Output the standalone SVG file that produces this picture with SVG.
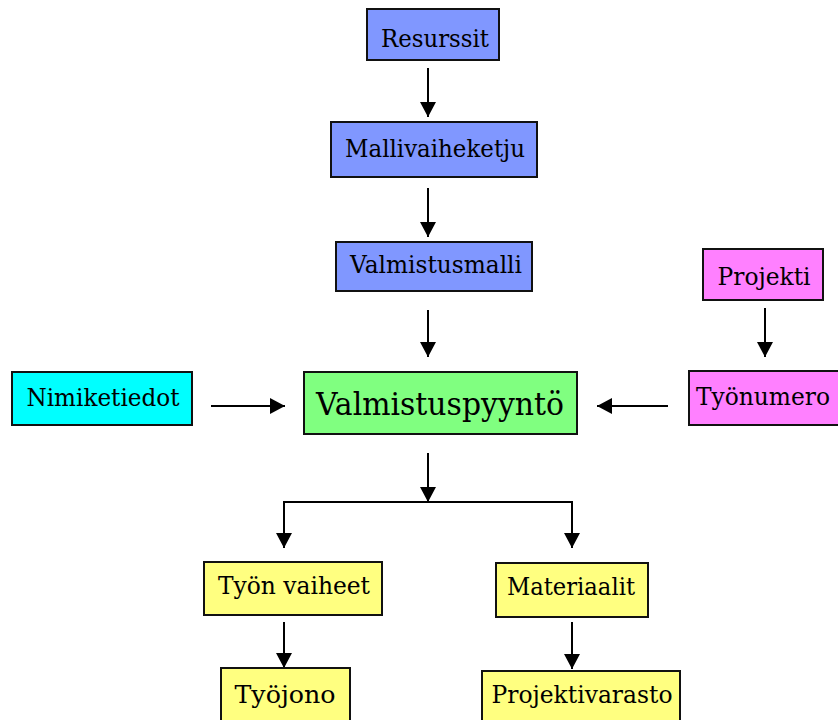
<svg xmlns="http://www.w3.org/2000/svg" width="838" height="720" viewBox="0 0 838 720">
  <defs>
    <marker id="arrow" viewBox="0 0 15 16" refX="15" refY="8" markerWidth="15" markerHeight="16" markerUnits="userSpaceOnUse" orient="auto">
      <path d="M0,0 L15,8 L0,16 Z" fill="#000"/>
    </marker>
    <style>
      .box { stroke: #111; stroke-width: 2; }
      .blue { fill: #8097ff; }
      .green { fill: #80ff80; }
      .cyan { fill: #00ffff; }
      .pink { fill: #ff80ff; }
      .yellow { fill: #ffff80; }
      .label { font-family: "DejaVu Serif", "Liberation Serif", serif; font-size: 24px; fill: #000; text-anchor: middle; }
      .big { font-size: 31px; }
      .conn { stroke: #000; stroke-width: 2; fill: none; }
      .arr { marker-end: url(#arrow); }
    </style>
  </defs>
  <rect width="838" height="720" fill="#fff"/>

  <g id="connectors">
    <line class="conn arr" x1="428" y1="68" x2="428" y2="117"/>
    <line class="conn arr" x1="428" y1="188" x2="428" y2="237"/>
    <line class="conn arr" x1="428" y1="310" x2="428" y2="357"/>
    <line class="conn arr" x1="211" y1="406" x2="285" y2="406"/>
    <line class="conn arr" x1="668" y1="406" x2="597" y2="406"/>
    <line class="conn arr" x1="765" y1="308" x2="765" y2="357"/>
    <line class="conn arr" x1="428" y1="453" x2="428" y2="502"/>
    <line class="conn" x1="283" y1="502" x2="573" y2="502"/>
    <line class="conn arr" x1="284" y1="501" x2="284" y2="548"/>
    <line class="conn arr" x1="572" y1="501" x2="572" y2="548"/>
    <line class="conn arr" x1="284" y1="622" x2="284" y2="668"/>
    <line class="conn arr" x1="572" y1="622" x2="572" y2="669"/>
  </g>

  <g id="resurssit">
    <rect class="box blue" x="367" y="9" width="132" height="51"/>
    <text class="label" x="435" y="47" textLength="108" lengthAdjust="spacingAndGlyphs">Resurssit</text>
  </g>
  <g id="mallivaiheketju">
    <rect class="box blue" x="331" y="122" width="206" height="55"/>
    <text class="label" x="435" y="157" textLength="180" lengthAdjust="spacingAndGlyphs">Mallivaiheketju</text>
  </g>
  <g id="valmistusmalli">
    <rect class="box blue" x="336" y="242" width="196" height="49"/>
    <text class="label" x="436" y="273" textLength="172" lengthAdjust="spacingAndGlyphs">Valmistusmalli</text>
  </g>
  <g id="valmistuspyynto">
    <rect class="box green" x="304" y="372" width="273" height="62"/>
    <text class="label big" x="440" y="415" textLength="248" lengthAdjust="spacingAndGlyphs">Valmistuspyyntö</text>
  </g>
  <g id="nimiketiedot">
    <rect class="box cyan" x="12" y="372" width="180" height="53"/>
    <text class="label" x="103" y="406" textLength="153" lengthAdjust="spacingAndGlyphs">Nimiketiedot</text>
  </g>
  <g id="projekti">
    <rect class="box pink" x="703" y="249" width="120" height="51"/>
    <text class="label" x="764" y="285" textLength="93" lengthAdjust="spacingAndGlyphs">Projekti</text>
  </g>
  <g id="tyonumero">
    <rect class="box pink" x="689" y="371" width="152" height="54"/>
    <text class="label" x="763" y="405" textLength="134" lengthAdjust="spacingAndGlyphs">Työnumero</text>
  </g>
  <g id="tyon-vaiheet">
    <rect class="box yellow" x="204" y="562" width="178" height="53"/>
    <text class="label" x="294" y="594" textLength="152" lengthAdjust="spacingAndGlyphs">Työn vaiheet</text>
  </g>
  <g id="materiaalit">
    <rect class="box yellow" x="496" y="563" width="152" height="54"/>
    <text class="label" x="571" y="595" textLength="128" lengthAdjust="spacingAndGlyphs">Materiaalit</text>
  </g>
  <g id="tyojono">
    <rect class="box yellow" x="221" y="668" width="129" height="56"/>
    <text class="label" x="285" y="703" textLength="101" lengthAdjust="spacingAndGlyphs">Työjono</text>
  </g>
  <g id="projektivarasto">
    <rect class="box yellow" x="482" y="671" width="198" height="56"/>
    <text class="label" x="582" y="703" textLength="181" lengthAdjust="spacingAndGlyphs">Projektivarasto</text>
  </g>
</svg>
